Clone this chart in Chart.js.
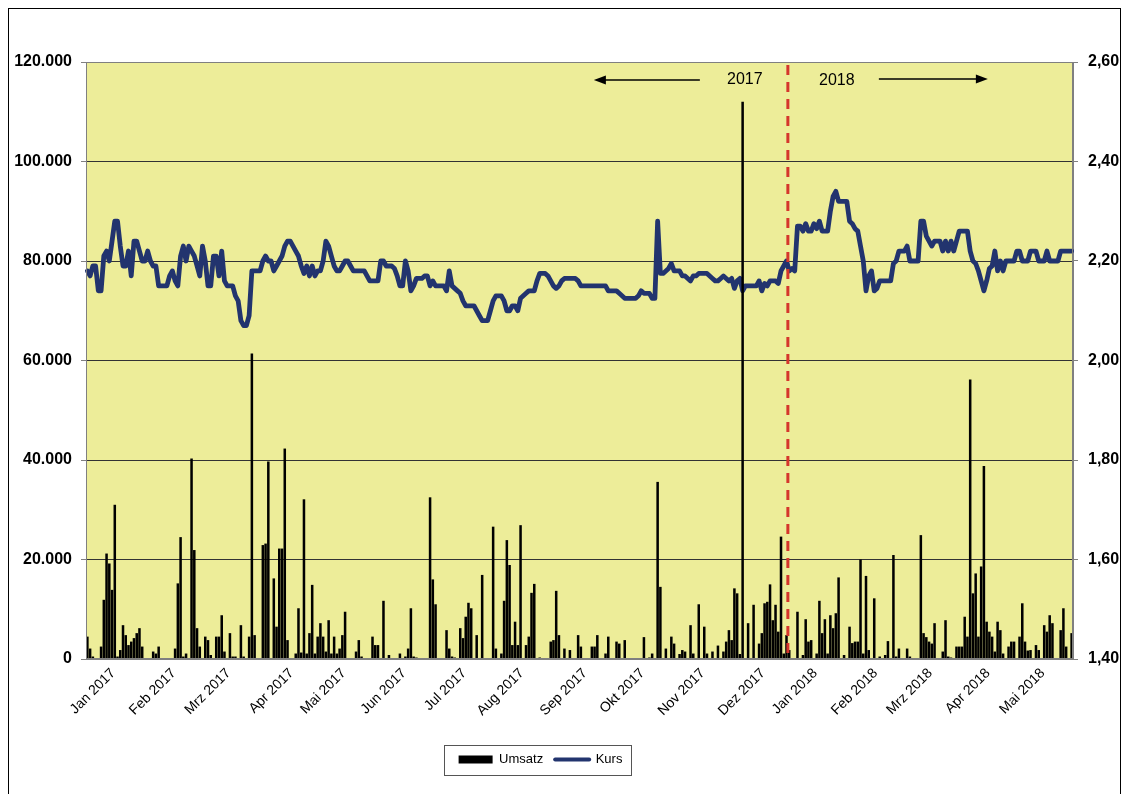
<!DOCTYPE html>
<html>
<head>
<meta charset="utf-8">
<script src="https://cdn.jsdelivr.net/npm/chart.js"></script>
<style>
html,body{margin:0;padding:0;background:#fff;}
#wrap{position:relative;width:1129px;height:794px;}
</style>
</head>
<body>
<div id="wrap"><canvas id="c" width="1129" height="794"></canvas></div>
<script>
// ---------- DATA ----------
const monthNames = ['Jan 2017','Feb 2017','Mrz 2017','Apr 2017','Mai 2017','Jun 2017','Jul 2017','Aug 2017','Sep 2017','Okt 2017','Nov 2017','Dez 2017','Jan 2018','Feb 2018','Mrz 2018','Apr 2018','Mai 2018'];
const tradingDays = [22,20,23,19,22,22,21,23,21,22,22,19,22,20,21,20,21];

const umsatz = [
4500,2100,500,0,0,2500,11900,21200,19200,13900,
31000,500,1800,6800,4800,2800,3500,4200,5200,6200,
2500,0,0,0,1500,1100,2500,0,0,0,
100,0,2100,15200,24500,500,1100,0,40300,21900,
6200,2500,0,4500,3800,800,0,4500,4500,8800,
1500,0,5200,500,500,0,6800,500,0,4500,
61400,4800,0,0,22900,23200,39700,0,16200,6500,
22200,22200,42300,3800,0,0,1100,10200,1300,32100,
1100,5200,14900,1100,4500,7200,4500,1500,7800,1100,
4500,1100,2100,4800,9500,0,0,0,1500,3800,
500,0,0,0,4500,2800,2800,0,11700,0,
800,0,0,0,1100,0,500,2100,10200,500,
300,0,0,100,0,32500,16000,11000,0,0,
0,5800,2100,500,300,0,6200,4200,8500,11300,
10200,0,4800,0,16900,0,0,0,26600,2100,
0,1100,11700,23900,18900,2800,7500,2800,26900,0,
2800,4500,13300,15100,0,300,0,0,0,3500,
3800,13700,4800,0,2100,0,1800,0,0,4800,
2500,0,0,0,2500,2500,4800,0,0,1100,
4500,0,0,3500,3100,0,3800,0,0,0,
0,0,0,4400,0,300,1100,0,35600,14500,
0,2100,0,4500,3100,0,1000,1800,1500,0,
6800,1100,0,11000,0,6500,1100,0,1500,0,
2700,0,1500,3500,5800,3800,14200,13200,1000,112000,
0,7200,0,10900,0,3100,5200,11200,11500,15000,
7800,10900,5500,24600,1100,4800,1800,0,200,9500,
0,800,8000,3500,3800,0,1100,11700,5200,8000,
1100,8800,6200,9200,16400,0,800,0,6500,3200,
3500,3500,20000,1100,16700,1800,0,12200,0,500,
0,800,3600,0,20900,500,2100,0,0,2100,
500,0,0,0,24900,5200,4400,3500,3100,7200,
0,0,1500,7800,500,300,0,2500,2500,2500,
8500,4500,56200,13200,17200,4500,18600,38800,7500,5500,
4500,1500,7500,5800,1100,0,2500,3500,3500,0,
4500,11200,3500,1700,1800,0,2800,1800,0,6800,
5500,8800,7200,0,0,5800,10200,2500,0,5200
];

const kurs = [
2.18,2.17,2.19,2.19,2.14,2.14,2.21,2.22,2.20,2.24,
2.28,2.28,2.23,2.19,2.19,2.22,2.17,2.24,2.24,2.22,
2.20,2.20,2.22,2.20,2.19,2.19,2.15,2.15,2.15,2.15,
2.17,2.18,2.16,2.15,2.21,2.23,2.20,2.23,2.22,2.21,
2.19,2.17,2.23,2.20,2.15,2.15,2.21,2.21,2.17,2.22,
2.16,2.15,2.15,2.15,2.13,2.12,2.08,2.07,2.07,2.09,
2.18,2.18,2.18,2.18,2.20,2.21,2.20,2.20,2.18,2.19,
2.20,2.21,2.23,2.24,2.24,2.23,2.22,2.21,2.19,2.175,
2.19,2.17,2.19,2.17,2.18,2.18,2.20,2.24,2.23,2.21,
2.19,2.18,2.18,2.19,2.20,2.20,2.19,2.18,2.18,2.18,
2.18,2.18,2.17,2.16,2.16,2.16,2.16,2.20,2.20,2.19,
2.19,2.19,2.185,2.17,2.15,2.15,2.20,2.18,2.14,2.15,
2.165,2.165,2.165,2.17,2.17,2.15,2.16,2.15,2.15,2.15,
2.15,2.14,2.18,2.15,2.145,2.14,2.135,2.12,2.11,2.11,
2.11,2.11,2.10,2.09,2.08,2.08,2.08,2.10,2.12,2.13,
2.13,2.13,2.12,2.10,2.10,2.11,2.11,2.10,2.125,2.13,
2.135,2.14,2.14,2.14,2.16,2.175,2.175,2.175,2.17,2.16,
2.15,2.145,2.15,2.16,2.165,2.165,2.165,2.165,2.165,2.16,
2.15,2.15,2.15,2.15,2.15,2.15,2.15,2.15,2.15,2.15,
2.14,2.14,2.14,2.14,2.135,2.13,2.125,2.125,2.125,2.125,
2.125,2.13,2.14,2.135,2.135,2.135,2.125,2.125,2.28,2.175,
2.175,2.18,2.185,2.195,2.18,2.18,2.18,2.17,2.17,2.165,
2.16,2.17,2.17,2.175,2.175,2.175,2.175,2.17,2.165,2.16,
2.16,2.165,2.17,2.165,2.16,2.165,2.145,2.16,2.165,2.14,
2.15,2.15,2.15,2.15,2.15,2.16,2.14,2.155,2.15,2.16,
2.16,2.16,2.155,2.18,2.19,2.20,2.18,2.185,2.18,2.27,
2.27,2.26,2.275,2.26,2.26,2.275,2.265,2.28,2.26,2.26,
2.26,2.30,2.33,2.34,2.32,2.32,2.32,2.32,2.28,2.275,
2.265,2.26,2.23,2.20,2.14,2.17,2.18,2.14,2.145,2.16,
2.16,2.16,2.16,2.16,2.195,2.20,2.22,2.22,2.22,2.23,
2.20,2.20,2.20,2.20,2.28,2.28,2.25,2.24,2.23,2.24,
2.24,2.24,2.22,2.24,2.22,2.24,2.22,2.24,2.26,2.26,
2.26,2.26,2.22,2.20,2.195,2.18,2.16,2.14,2.16,2.185,
2.19,2.22,2.18,2.20,2.18,2.20,2.20,2.20,2.20,2.22,
2.22,2.20,2.20,2.20,2.22,2.22,2.22,2.20,2.20,2.20,
2.22,2.20,2.20,2.20,2.20,2.22,2.22,2.22,2.22,2.22
];

const yearLabels = ['2017','2018'];
const seriesNames = ['Umsatz','Kurs'];

// ---------- categories (one per trading day) ----------
const categories = [];
const monthStart = {};
monthNames.forEach((m, mi) => {
  monthStart[categories.length] = m;
  for (let k = 0; k < tradingDays[mi]; k++) categories.push(m + ' / ' + (k + 1));
});
const firstIdx2018 = categories.findIndex(c => c.startsWith('Jan 2018'));

const NAVY = '#22346E';
const FONT = "'Liberation Sans', Arial, Helvetica, sans-serif";
Chart.defaults.font.family = FONT;
Chart.defaults.color = '#000';

function fmtThousands(v) { return String(Math.round(v)).replace(/\B(?=(\d{3})+(?!\d))/g, '.'); }

function arrow(ctx, x1, x2, y) {
  const s = Math.sign(x2 - x1);
  ctx.beginPath(); ctx.moveTo(x1, y); ctx.lineTo(x2 - s * 8, y); ctx.stroke();
  ctx.beginPath(); ctx.moveTo(x2, y); ctx.lineTo(x2 - s * 12, y - 4.5); ctx.lineTo(x2 - s * 12, y + 4.5); ctx.closePath(); ctx.fill();
}

const deco = {
  id: 'deco',
  beforeDraw(chart) {
    const {ctx, chartArea: a} = chart;
    ctx.save();
    ctx.fillStyle = '#EDED99';
    ctx.fillRect(a.left, a.top, a.right - a.left, a.bottom - a.top);
    ctx.restore();
  },
  afterLayout(chart) {
    if (chart.legend) { chart.legend.left -= 28; chart.legend.right -= 28; }
  },
  afterDatasetsDraw(chart) {
    const {ctx, chartArea: a, scales: {x}} = chart;
    ctx.save();
    ctx.strokeStyle = '#808080'; ctx.lineWidth = 1;
    ctx.strokeRect(Math.round(a.left) + 0.5, Math.round(a.top) + 0.5, Math.round(a.right - a.left) - 1, Math.round(a.bottom - a.top) - 1);
    const rx = (x.getPixelForValue(firstIdx2018 - 1) + x.getPixelForValue(firstIdx2018)) / 2;
    ctx.strokeStyle = '#D5362C'; ctx.lineWidth = 3; ctx.setLineDash([10, 7]);
    ctx.beginPath(); ctx.moveTo(rx, a.top + 3); ctx.lineTo(rx, a.bottom); ctx.stroke();
    ctx.restore();
  },
  afterDraw(chart) {
    const {ctx, chartArea: a, scales: {x}} = chart;
    const rx = (x.getPixelForValue(firstIdx2018 - 1) + x.getPixelForValue(firstIdx2018)) / 2;
    ctx.save();
    ctx.fillStyle = '#000'; ctx.strokeStyle = '#000';
    ctx.font = '16px ' + FONT;
    ctx.textAlign = 'center'; ctx.textBaseline = 'middle';
    ctx.fillText(yearLabels[0], rx - 43, a.top + 18);
    ctx.fillText(yearLabels[1], rx + 49, a.top + 19);
    ctx.lineWidth = 1.5;
    arrow(ctx, rx - 88, rx - 194, a.top + 18);
    arrow(ctx, rx + 91, rx + 200, a.top + 17);
    // legend frame
    const hb = chart.legend && chart.legend.legendHitBoxes;
    if (hb && hb.length) {
      const f = hb[0], l = hb[hb.length - 1];
      const cy = f.top + f.height / 2;
      ctx.strokeStyle = '#555'; ctx.lineWidth = 1;
      ctx.strokeRect(Math.round(f.left - 15) + 0.5, Math.round(cy - 15) + 0.5, Math.round(l.left + l.width + 8 - (f.left - 15)), 30);
    }
    // outer frame
    ctx.strokeStyle = '#000'; ctx.lineWidth = 1;
    ctx.strokeRect(8.5, 8.5, 1112, 820);
    ctx.restore();
  }
};

new Chart(document.getElementById('c'), {
  type: 'bar',
  data: {
    labels: categories,
    datasets: [
      {
        type: 'bar', label: seriesNames[0], data: umsatz, yAxisID: 'y',
        backgroundColor: '#000', borderWidth: 0,
        categoryPercentage: 1, barPercentage: 0.92, order: 0
      },
      {
        type: 'line', label: seriesNames[1], data: kurs, yAxisID: 'y1',
        borderColor: NAVY, borderWidth: 4.8, pointRadius: 0, tension: 0,
        borderJoinStyle: 'round', borderCapStyle: 'round', fill: false, order: 1
      }
    ]
  },
  options: {
    responsive: false, animation: false, devicePixelRatio: 1,
    layout: { padding: { left: 8, right: 0, top: 62, bottom: 18 } },
    plugins: {
      tooltip: { enabled: false },
      legend: {
        position: 'bottom',
        labels: {
          font: { size: 13 }, color: '#000',
          usePointStyle: true, pointStyleWidth: 34, boxHeight: 8, padding: 12,
          generateLabels(chart) {
            return chart.data.datasets.map((ds, i) => ({
              text: ds.label, datasetIndex: i, hidden: false,
              fillStyle: i === 0 ? '#000' : NAVY,
              strokeStyle: i === 0 ? '#000' : NAVY,
              lineWidth: i === 0 ? 0 : 4,
              lineCap: 'round',
              pointStyle: i === 0 ? 'rect' : 'line',
              fontColor: '#000'
            }));
          }
        }
      }
    },
    scales: {
      x: {
        type: 'category',
        offset: true,
        grid: { display: false, drawTicks: false },
        border: { display: true, color: '#808080' },
        afterBuildTicks(axis) { axis.ticks = Object.keys(monthStart).map(k => ({ value: +k })); },
        afterFit(s) { s.height = 82; },
        ticks: {
          autoSkip: false, minRotation: 45, maxRotation: 45,
          labelOffset: 26, padding: 6,
          font: { size: 14 }, color: '#000',
          callback(v) { return monthStart[v] !== undefined ? monthStart[v] : ''; }
        }
      },
      y: {
        position: 'left', min: 0, max: 120000,
        afterFit(s) { s.width = 78; },
        grid: {
          color: c => (c.tick && (c.tick.value === 0 || c.tick.value === 120000)) ? 'rgba(0,0,0,0)' : '#333',
          tickColor: '#808080', tickLength: 5, lineWidth: 1
        },
        border: { display: true, color: '#808080' },
        ticks: { stepSize: 20000, padding: 9, font: { size: 16, weight: 'bold' }, color: '#000', callback: v => fmtThousands(v) }
      },
      y1: {
        position: 'right', min: 1.4, max: 2.6,
        afterFit(s) { s.width = 56; },
        grid: { drawOnChartArea: false, tickColor: '#808080', tickLength: 5 },
        border: { display: true, color: '#808080' },
        ticks: { stepSize: 0.2, padding: 10, font: { size: 16, weight: 'bold' }, color: '#000', callback: v => Number(v).toFixed(2).replace('.', ',') }
      }
    }
  },
  plugins: [deco]
});
</script>
</body>
</html>
